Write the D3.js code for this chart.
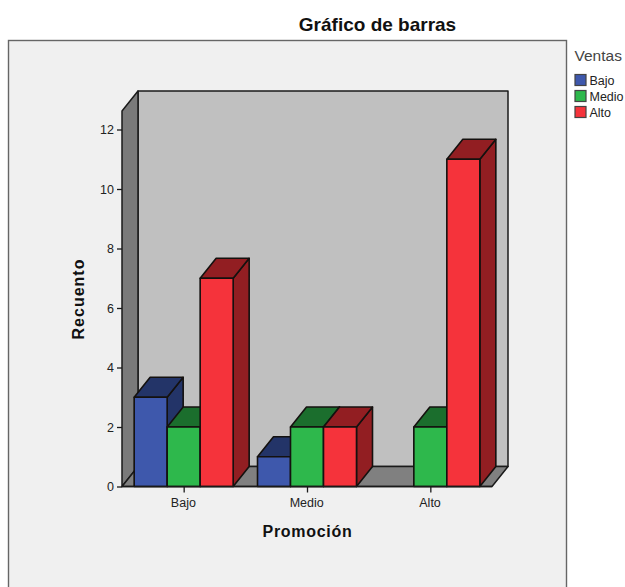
<!DOCTYPE html>
<html lang="es">
<head>
<meta charset="utf-8">
<title>Gráfico de barras</title>
<script src="https://cdn.jsdelivr.net/npm/d3@7/dist/d3.min.js"></script>
<style>
  html, body { margin: 0; padding: 0; background: #fff; }
  svg { display: block; font-family: "Liberation Sans", Arial, sans-serif; }
</style>
</head>
<body>
<svg id="chart" width="625" height="587"></svg>
<script>
// Counts by promotion level (x) and sales level (series)
const promociones = ["Bajo", "Medio", "Alto"];
const ventas = ["Bajo", "Medio", "Alto"];
const ventasBajo = [3, 1, 0];
const ventasMedio = [2, 2, 2];
const ventasAlto = [7, 2, 11];
const yTicks = [0, 2, 4, 6, 8, 10, 12];
const seriesValues = [ventasBajo, ventasMedio, ventasAlto];

const frontColors = ["#3e58ac", "#2eb84c", "#f5333b"];
const topColors = ["#233468", "#1b6e2d", "#921e22"];

const svg = d3.select("#chart");

// Oblique projection offset for the extruded look
const depthX = 16, depthY = 20;
const left = 122, right = 492, bottom = 486.5;

const y = d3.scaleLinear().domain([0, 12]).range([bottom, 129.5]);
const yTop = 111;

const xCenter = d3.scalePoint().domain(promociones).range([left, right]).padding(0.5);
const xInner = d3.scaleBand().domain(ventas).range([-49.5, 49.5]);

const poly = pts => pts.map(p => p.join(",")).join(" ");

// Page frame
svg.append("rect").attr("x", 8.5).attr("y", 40.5).attr("width", 558).attr("height", 560)
  .attr("fill", "#f0f0f0").attr("stroke", "#666").attr("stroke-width", 1.4);

// Title
svg.append("text").attr("x", 377.5).attr("y", 31).attr("text-anchor", "middle")
  .attr("font-size", 19).attr("font-weight", "bold").attr("fill", "#111").text("Gráfico de barras");

// Back wall, left wall and floor
const walls = svg.append("g").attr("stroke", "#1a1a1a").attr("stroke-width", 1.5).attr("stroke-linejoin", "round");
walls.append("polygon")
  .attr("points", poly([[left + depthX, yTop - depthY], [right + depthX, yTop - depthY], [right + depthX, bottom - depthY], [left + depthX, bottom - depthY]]))
  .attr("fill", "#c0c0c0");
walls.append("polygon")
  .attr("points", poly([[left, yTop], [left + depthX, yTop - depthY], [left + depthX, bottom - depthY], [left, bottom]]))
  .attr("fill", "#7a7a7a");
walls.append("polygon")
  .attr("points", poly([[left, bottom], [left + depthX, bottom - depthY], [right + depthX, bottom - depthY], [right, bottom]]))
  .attr("fill", "#808080");

// Bars, left to right so each one overlaps the side face of the previous
const bars = svg.append("g").attr("stroke", "#14110f").attr("stroke-width", 1.6).attr("stroke-linejoin", "round");
promociones.forEach((p, i) => {
  ventas.forEach((v, s) => {
    const value = seriesValues[s][i];
    if (value <= 0) return;
    const x0 = xCenter(p) + xInner(v);
    const x1 = x0 + xInner.bandwidth();
    const yv = y(value);
    bars.append("polygon")
      .attr("points", poly([[x1, yv], [x1 + depthX, yv - depthY], [x1 + depthX, bottom - depthY], [x1, bottom]]))
      .attr("fill", topColors[s]);
    bars.append("polygon")
      .attr("points", poly([[x0, yv], [x0 + depthX, yv - depthY], [x1 + depthX, yv - depthY], [x1, yv]]))
      .attr("fill", topColors[s]);
    bars.append("rect")
      .attr("x", x0).attr("y", yv).attr("width", x1 - x0).attr("height", bottom - yv)
      .attr("fill", frontColors[s]);
  });
});

// Axes
const yAxis = svg.append("g").attr("transform", `translate(${left},0)`)
  .call(d3.axisLeft(y).tickValues(yTicks).tickSize(5).tickPadding(3).tickFormat(d3.format("d")));
const xAxis = svg.append("g").attr("transform", `translate(0,${bottom})`)
  .call(d3.axisBottom(xCenter).tickSize(6).tickPadding(6));
[yAxis, xAxis].forEach(a => {
  a.selectAll(".domain").remove();
  a.selectAll("line").attr("stroke", "#1a1a1a").attr("stroke-width", 1.3);
  a.selectAll("text").attr("font-family", "'Liberation Sans', Arial, sans-serif").attr("font-size", 12.5).attr("fill", "#222");
});
xAxis.selectAll("text").attr("dx", -0.8);
svg.append("line").attr("x1", left).attr("x2", right).attr("y1", bottom).attr("y2", bottom)
  .attr("stroke", "#1a1a1a").attr("stroke-width", 1.5);

// Axis titles
svg.append("text").attr("transform", "translate(84,299) rotate(-90)").attr("text-anchor", "middle")
  .attr("font-size", 16).attr("font-weight", "bold").attr("letter-spacing", 1).attr("fill", "#111").text("Recuento");
svg.append("text").attr("x", 307.5).attr("y", 537).attr("text-anchor", "middle")
  .attr("font-size", 16).attr("font-weight", "bold").attr("letter-spacing", 0.7).attr("fill", "#111").text("Promoción");

// Legend
svg.append("text").attr("x", 574.5).attr("y", 61).attr("font-size", 15.5).attr("fill", "#444").text("Ventas");
const legend = svg.append("g");
ventas.forEach((v, s) => {
  const ly = 74.5 + s * 16;
  legend.append("rect").attr("x", 575).attr("y", ly).attr("width", 11).attr("height", 11)
    .attr("fill", frontColors[s]).attr("stroke", "#444").attr("stroke-width", 1.2);
  legend.append("text").attr("x", 589.5).attr("y", ly + 10.5).attr("font-size", 12.5).attr("fill", "#222").text(v);
});
</script>
</body>
</html>
